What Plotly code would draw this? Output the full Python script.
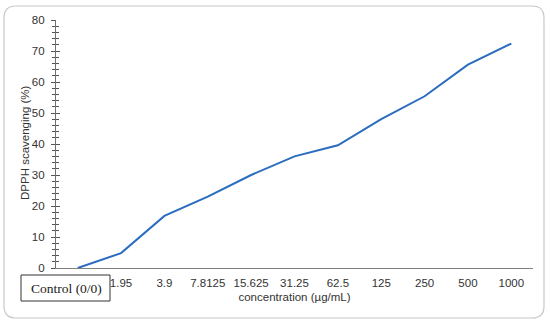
import plotly.graph_objects as go

categories = ["Control", "1.95", "3.9", "7.8125", "15.625", "31.25", "62.5", "125", "250", "500", "1000"]
scavenging = [0, 4.8, 16.8, 23.0, 30.0, 36.0, 39.6, 48.0, 55.4, 65.6, 72.4]
y_ticks = [0, 10, 20, 30, 40, 50, 60, 70, 80]

W, H = 550, 324
L, R, T, B = 56, 17, 20, 56
pw, ph = W - L - R, H - T - B

def px(x):
    return (x - L) / pw

def py(y):
    return (H - B - y) / ph

fig = go.Figure()
fig.add_trace(go.Scatter(
    x=categories, y=scavenging, mode="lines",
    line=dict(color="#2a6cbf", width=2), showlegend=False, hoverinfo="skip"))
fig.add_trace(go.Scatter(x=categories, y=scavenging, yaxis="y2", mode="lines",
                         line=dict(width=0), showlegend=False, hoverinfo="skip", opacity=0))

tickfont = dict(family="Liberation Sans, Arial, sans-serif", size=11.5, color="#333333")
fig.update_layout(
    width=W, height=H,
    margin=dict(l=L, r=R, t=T, b=B, autoexpand=False),
    paper_bgcolor="white", plot_bgcolor="white",
    xaxis=dict(type="category", range=[-0.5, 10.5], showgrid=False, zeroline=False,
               automargin=False,
               showline=True, linecolor="#808080", linewidth=1.3, ticks="",
               tickvals=categories[1:], ticktext=categories[1:], tickfont=tickfont,
               ticklabelstandoff=4,
               title=dict(text="concentration (µg/mL)", font=tickfont, standoff=4)),
    yaxis=dict(range=[0, 80], tickvals=y_ticks, showgrid=False, zeroline=False,
               automargin=False,
               showline=True, linecolor="#707070", linewidth=1.2,
               ticks="outside", ticklen=4, tickcolor="#555555", tickwidth=1,
               minor=dict(dtick=2, ticks="outside", ticklen=2.5, tickcolor="#555555", tickwidth=1),
               tickfont=tickfont, ticklabelstandoff=4),
    yaxis2=dict(range=[0, 80], overlaying="y", side="left", tickvals=y_ticks,
                automargin=False,
                showticklabels=False, showgrid=False, zeroline=False, showline=False,
                ticks="inside", ticklen=4, tickcolor="#555555", tickwidth=1,
                minor=dict(dtick=2, ticks="inside", ticklen=2.5, tickcolor="#555555", tickwidth=1)),
)

fig.add_annotation(text="DPPH scavenging (%)", xref="paper", yref="paper",
                   x=px(25), y=py(143), textangle=-90, showarrow=False,
                   xanchor="center", yanchor="middle", font=tickfont)

x0, x1, y0, y1, r = 4, 544, 6, 318, 12
path = (f"M {px(x0+r)},{py(y0)} L {px(x1-r)},{py(y0)} Q {px(x1)},{py(y0)} {px(x1)},{py(y0+r)} "
        f"L {px(x1)},{py(y1-r)} Q {px(x1)},{py(y1)} {px(x1-r)},{py(y1)} "
        f"L {px(x0+r)},{py(y1)} Q {px(x0)},{py(y1)} {px(x0)},{py(y1-r)} "
        f"L {px(x0)},{py(y0+r)} Q {px(x0)},{py(y0)} {px(x0+r)},{py(y0)} Z")
fig.add_shape(type="path", path=path, xref="paper", yref="paper",
              line=dict(color="#c8c8c8", width=1.2), layer="below")

fig.add_shape(type="rect", xref="paper", yref="paper",
              x0=px(21), x1=px(110), y0=py(301), y1=py(275),
              line=dict(color="#333333", width=1), fillcolor="white", layer="above")
fig.add_annotation(text="Control (0/0)", xref="paper", yref="paper",
                   x=px(29), y=py(288), xanchor="left", yanchor="middle", showarrow=False,
                   font=dict(family="Liberation Serif, Times New Roman, serif", size=13.5, color="#222222"))

fig.write_html("out.html", config={"displayModeBar": False},
               post_script="document.body.style.margin='0';")
